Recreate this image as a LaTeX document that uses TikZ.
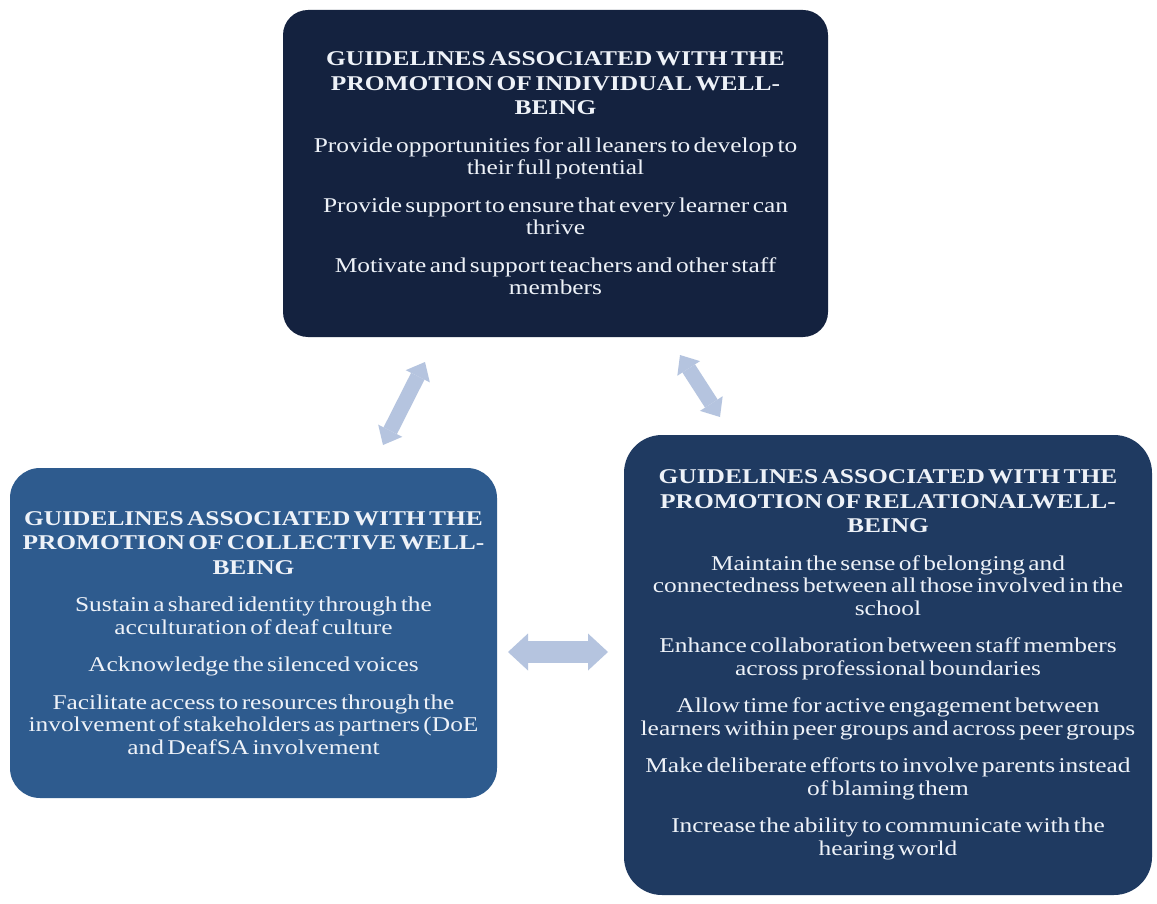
\documentclass[tikz,border=0pt]{standalone}
\usepackage{fontspec}
\setmainfont{Liberation Serif}[FakeStretch=1.21]
\usetikzlibrary{arrows.meta}
\definecolor{topc}{HTML}{14223F}
\definecolor{leftc}{HTML}{2E5B8E}
\definecolor{rightc}{HTML}{1F3A61}
\definecolor{txtc}{HTML}{EEF2F8}
\definecolor{arrc}{HTML}{B5C4DF}
\setlength\parindent{0pt}
\setlength\parskip{0pt}
\newcommand\boxhead[1]{{\bfseries\fontsize{21}{24.5}\selectfont #1\par}}
\newcommand\boxitem[1]{\vspace{15pt}{\fontsize{21}{22.5}\selectfont #1\par}}
\tikzset{
  gbox/.style={inner sep=0pt, text=txtc, align=center},
  biarrow/.style={draw=arrc, line cap=butt}
}
\begin{document}
\begin{tikzpicture}[x=1pt,y=-1pt]
\useasboundingbox (0,0) rectangle (1157,904);
\fill[white] (0,0) rectangle (1157,904);

\node[gbox, fill=topc, rounded corners=25pt, minimum width=545pt, minimum height=327pt, text width=545pt] (top) at (555.5,173.5) {%
\boxhead{GUIDELINES ASSOCIATED WITH THE\\PROMOTION OF INDIVIDUAL WELL-\\BEING}
\boxitem{Provide opportunities for all leaners to develop to\\their full potential}
\boxitem{Provide support to ensure that every learner can\\thrive}
\boxitem{Motivate and support teachers and other staff\\members}};

\node[gbox, fill=leftc, rounded corners=30pt, minimum width=487pt, minimum height=330pt, text width=487pt] (left) at (253.5,633) {%
\boxhead{GUIDELINES ASSOCIATED WITH THE\\PROMOTION OF COLLECTIVE WELL-\\BEING}
\boxitem{Sustain a shared identity through the\\acculturation of deaf culture}
\boxitem{Acknowledge the silenced voices}
\boxitem{Facilitate access to resources through the\\involvement of stakeholders as partners (DoE\\and DeafSA involvement}};

\node[gbox, fill=rightc, rounded corners=38pt, minimum width=528pt, minimum height=460pt, text width=528pt] (right) at (888,665) {%
\boxhead{GUIDELINES ASSOCIATED WITH THE\\PROMOTION OF RELATIONALWELL-\\BEING}
\boxitem{Maintain the sense of belonging and\\connectedness between all those involved in the\\school}
\boxitem{Enhance collaboration between staff members\\across professional boundaries}
\boxitem{Allow time for active engagement between\\learners within peer groups and across peer groups}
\boxitem{Make deliberate efforts to involve parents instead\\of blaming them}
\boxitem{Increase the ability to communicate with the\\hearing world}};

\coordinate (la1) at (383,445);
\coordinate (la2) at (425,362);
\coordinate (ra1) at (680,355);
\coordinate (ra2) at (720,417);
\coordinate (ha1) at (508,652);
\coordinate (ha2) at (608,652);

\draw[biarrow, line width=15pt, {Triangle[length=16pt,width=27pt,line width=0pt,fill=arrc]}-{Triangle[length=16pt,width=27pt,line width=0pt,fill=arrc]}] (la1) -- (la2);
\draw[biarrow, line width=15pt, {Triangle[length=16pt,width=27pt,line width=0pt,fill=arrc]}-{Triangle[length=16pt,width=27pt,line width=0pt,fill=arrc]}] (ra1) -- (ra2);
\draw[biarrow, line width=22pt, {Triangle[length=20pt,width=37pt,line width=0pt,fill=arrc]}-{Triangle[length=20pt,width=37pt,line width=0pt,fill=arrc]}] (ha1) -- (ha2);
\end{tikzpicture}
\end{document}
